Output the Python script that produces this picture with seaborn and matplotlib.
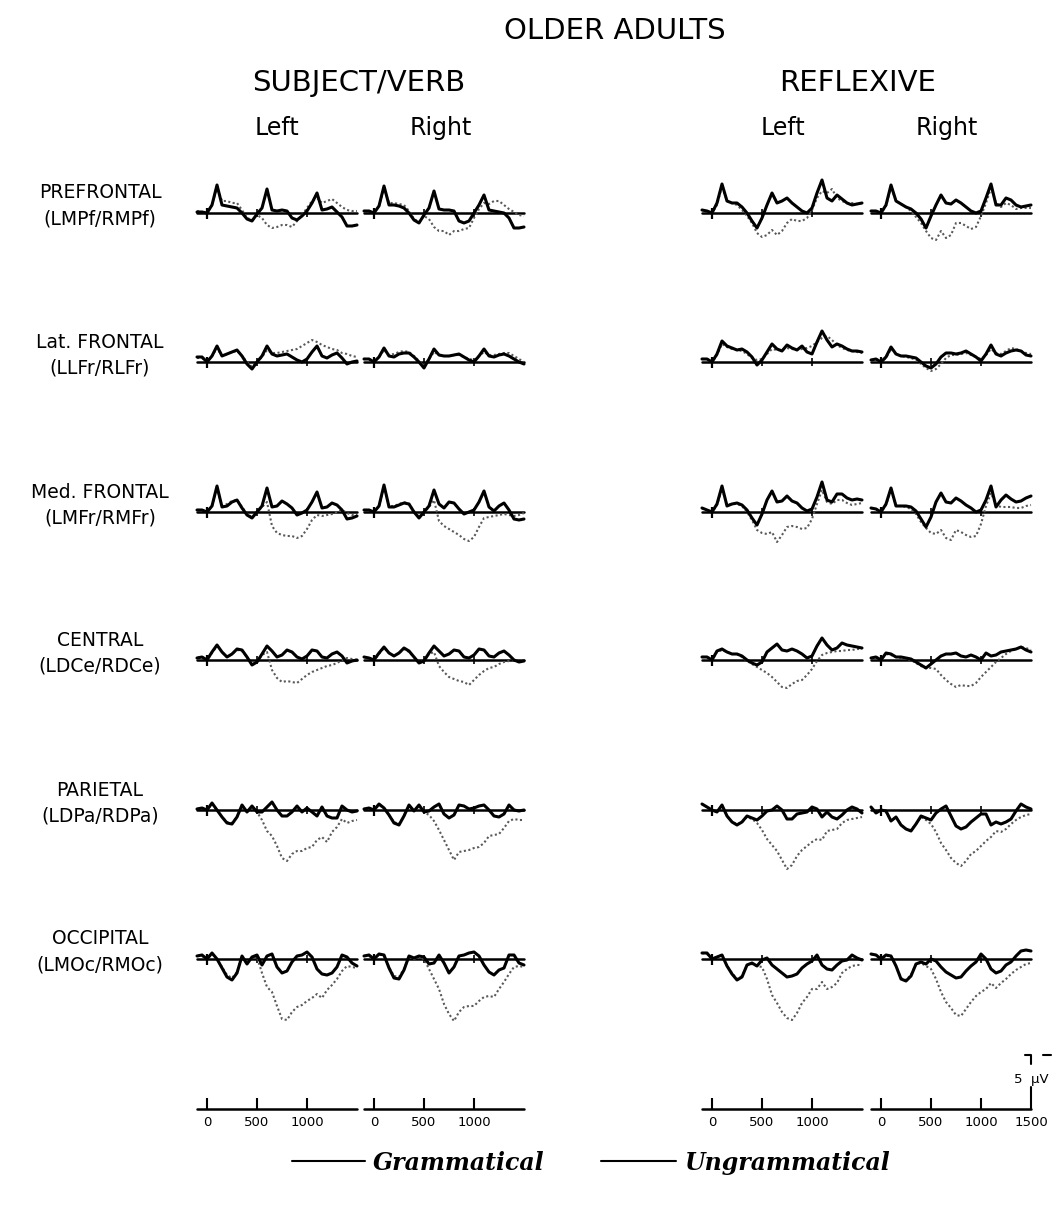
import matplotlib
matplotlib.use("Agg")
import matplotlib.pyplot as plt
from matplotlib.lines import Line2D
import pandas as pd
import seaborn as sns

# sample times (ms) and amplitudes (0.1 uV, drawn upward as plotted in the figure)
times = list(range(-100, 1501, 50))

# PREFRONTAL
pf_svl_g = [1, 1, 0, 8, 28, 8, 7, 6, 5, 0, -6, -8, -1, 5, 24, 3, 2, 3, 2, -5, -7, -3, 2, 10, 20, 3, 4, 6, 1, -4, -13, -13, -12]
pf_svl_u = [2, 1, 0, 8, 26, 12, 12, 10, 10, 3, -5, -7, -2, -5, -12, -15, -14, -12, -12, -14, -8, -2, 5, 12, 15, 10, 12, 14, 10, 6, 3, 2, 2]
pf_svr_g = [2, 2, 0, 7, 27, 8, 8, 7, 5, 0, -7, -10, -2, 5, 22, 4, 3, 3, 2, -8, -10, -8, 0, 8, 18, 3, 2, 1, 0, -5, -15, -15, -14]
pf_svr_u = [2, 2, 0, 7, 25, 10, 10, 9, 8, 2, -6, -9, -3, -6, -14, -18, -18, -22, -18, -18, -16, -15, -5, 4, 10, 9, 12, 12, 8, 4, 1, -2, -3]
pf_rfl_g = [3, 2, 0, 10, 29, 12, 10, 10, 6, 0, -8, -15, -5, 8, 20, 10, 12, 15, 10, 6, 2, 0, 5, 20, 33, 15, 12, 18, 14, 10, 8, 9, 10]
pf_rfl_u = [3, 2, 0, 8, 27, 12, 10, 8, 3, -3, -10, -20, -24, -22, -17, -22, -18, -10, -6, -8, -8, -5, 3, 15, 22, 20, 24, 15, 12, 10, 10, 9, 10]
pf_rfr_g = [2, 2, 0, 8, 28, 12, 9, 6, 4, 0, -6, -15, -3, 8, 18, 10, 9, 13, 10, 6, 2, 0, 2, 15, 29, 8, 8, 15, 13, 8, 6, 7, 8]
pf_rfr_u = [2, 2, 0, 7, 26, 12, 9, 6, 2, -4, -10, -18, -25, -27, -18, -25, -22, -10, -10, -13, -16, -14, -3, 10, 25, 10, 6, 10, 8, 4, 5, 5, 5]

# Lat. FRONTAL
lf_svl_g = [5, 5, 0, 6, 16, 6, 8, 10, 12, 6, -2, -7, 0, 6, 16, 8, 6, 7, 8, 5, 2, 0, 3, 10, 16, 6, 4, 7, 9, 4, -2, 0, 1]
lf_svl_u = [4, 4, 0, 6, 14, 6, 8, 10, 11, 6, 0, -5, 0, 5, 12, 9, 9, 10, 11, 12, 13, 16, 19, 22, 20, 17, 15, 13, 12, 9, 8, 6, 5]
lf_svr_g = [3, 3, 0, 5, 14, 6, 5, 8, 9, 9, 5, 0, -6, 3, 13, 7, 6, 6, 7, 8, 5, 2, 0, 6, 13, 6, 5, 7, 8, 6, 3, 0, -2]
lf_svr_u = [3, 3, 0, 5, 12, 7, 8, 10, 11, 10, 6, 1, -3, 3, 10, 7, 6, 6, 7, 7, 5, 3, 2, 6, 10, 7, 7, 8, 9, 9, 6, 3, 0]
lf_rfl_g = [3, 3, 0, 8, 21, 16, 14, 12, 13, 10, 5, -3, 2, 10, 18, 13, 11, 17, 14, 12, 16, 10, 8, 20, 31, 22, 15, 18, 16, 13, 11, 11, 10]
lf_rfl_u = [3, 3, 0, 7, 18, 15, 13, 12, 11, 8, 4, 2, 3, 8, 13, 12, 12, 14, 13, 12, 13, 14, 16, 20, 24, 26, 22, 17, 14, 12, 11, 10, 9]
lf_rfr_g = [2, 3, 0, 5, 15, 8, 6, 6, 5, 4, 0, -4, -6, -2, 5, 9, 9, 8, 9, 11, 8, 5, 1, 8, 17, 8, 6, 9, 11, 12, 11, 7, 6]
lf_rfr_u = [2, 2, 0, 4, 13, 8, 6, 5, 4, 2, -2, -6, -9, -7, -2, 4, 7, 7, 8, 9, 7, 5, 3, 7, 13, 9, 8, 11, 14, 13, 11, 9, 8]

# Med. FRONTAL
mf_svl_g = [2, 2, 0, 6, 26, 5, 6, 10, 12, 4, -3, -6, 0, 6, 24, 5, 6, 11, 8, 4, -3, -1, 2, 10, 20, 4, 5, 9, 7, 2, -7, -6, -4]
mf_svl_u = [2, 2, 0, 6, 24, 6, 8, 11, 12, 5, -2, -5, 0, 5, 10, -14, -21, -23, -24, -24, -26, -24, -17, -8, -3, -4, -3, -2, 0, 2, -1, -3, -3]
mf_svr_g = [2, 2, 0, 6, 27, 5, 5, 7, 9, 8, 0, -6, 0, 6, 22, 8, 4, 10, 9, 3, -2, 0, 2, 10, 21, 5, 1, 6, 9, 2, -7, -8, -7]
mf_svr_u = [2, 2, 0, 6, 25, 6, 6, 8, 10, 8, 1, -5, 0, 5, 12, -9, -14, -17, -20, -23, -27, -29, -25, -15, -6, -5, -4, -3, -2, -3, -4, -3, -1]
mf_rfl_g = [4, 2, 0, 8, 26, 6, 8, 9, 7, 2, -6, -13, -2, 12, 21, 10, 11, 16, 11, 9, 4, 1, 3, 15, 30, 12, 10, 18, 18, 14, 12, 13, 12]
mf_rfl_u = [4, 2, 0, 7, 23, 7, 8, 8, 6, 0, -8, -18, -21, -22, -20, -30, -23, -15, -14, -15, -17, -16, -7, 8, 22, 10, 8, 12, 12, 9, 7, 8, 9]
mf_rfr_g = [4, 3, 0, 8, 24, 6, 6, 6, 5, 1, -7, -15, -5, 10, 19, 10, 9, 14, 11, 7, 4, 0, 2, 12, 26, 5, 12, 17, 13, 10, 11, 14, 16]
mf_rfr_u = [4, 3, 0, 7, 22, 6, 6, 5, 3, -2, -10, -16, -21, -22, -18, -26, -28, -18, -20, -23, -25, -24, -12, 6, 19, 7, 5, 5, 5, 4, 4, 6, 7]

# CENTRAL
ce_svl_g = [2, 3, 0, 8, 15, 8, 3, 6, 11, 10, 3, -5, -2, 6, 14, 9, 3, 5, 10, 8, 3, 1, 4, 10, 9, 3, 2, 6, 8, 4, -3, -1, 0]
ce_svl_u = [2, 3, 0, 7, 14, 8, 3, 6, 10, 9, 3, -4, -2, 5, 8, -10, -18, -22, -21, -22, -23, -19, -15, -12, -10, -8, -6, -5, -3, 0, 2, 1, 0]
ce_svr_g = [3, 2, 0, 7, 13, 7, 4, 7, 12, 9, 3, -3, -1, 7, 14, 9, 4, 6, 10, 9, 3, 2, 5, 11, 10, 4, 3, 7, 9, 5, 0, -2, -1]
ce_svr_u = [3, 2, 0, 6, 12, 7, 4, 7, 11, 8, 3, -2, -1, 6, 8, -6, -12, -17, -19, -21, -22, -25, -20, -15, -11, -8, -7, -4, -2, -1, 0, -1, 0]
ce_rfl_g = [3, 3, 0, 9, 11, 8, 6, 6, 4, 0, -3, -5, -2, 8, 12, 16, 10, 9, 11, 9, 6, 2, 4, 14, 22, 15, 10, 12, 17, 15, 14, 13, 12]
ce_rfl_u = [3, 3, 0, 8, 10, 8, 6, 6, 3, -1, -4, -7, -10, -13, -17, -22, -27, -28, -24, -21, -20, -15, -9, -1, 5, 7, 8, 9, 9, 10, 10, 11, 11]
ce_rfr_g = [2, 3, 0, 7, 6, 3, 3, 2, 1, -2, -5, -8, -4, 0, 4, 6, 6, 7, 4, 3, 5, 3, 0, 7, 4, 5, 8, 9, 10, 11, 13, 10, 8]
ce_rfr_u = [2, 2, 0, 6, 5, 3, 2, 1, 0, -3, -6, -8, -8, -9, -15, -20, -24, -27, -25, -26, -26, -23, -17, -12, -7, -2, 2, 6, 9, 11, 13, 12, 10]

# PARIETAL
pa_svl_g = [1, 2, 0, 7, 0, -7, -13, -14, -7, 5, -2, 4, -2, -2, 3, 8, 0, -6, -6, -2, 4, -2, 2, -2, -6, 3, -6, -8, -8, 4, 0, -2, -1]
pa_svl_u = [1, 2, 0, 6, 0, -7, -12, -13, -7, 4, -2, 3, -2, -10, -21, -26, -36, -48, -51, -44, -41, -41, -38, -37, -30, -27, -32, -22, -17, -9, -13, -11, -10]
pa_svr_g = [1, 2, 0, 6, 2, -5, -13, -15, -6, 5, -1, 5, -2, -1, 3, 6, -4, -8, -5, 5, 4, 1, 2, 4, 5, 0, -6, -7, -4, 5, 0, -1, 0]
pa_svr_u = [1, 2, 0, 5, 2, -5, -12, -14, -6, 4, -1, 4, -2, -5, -11, -20, -30, -40, -50, -42, -41, -40, -38, -37, -33, -26, -25, -24, -18, -11, -9, -10, -10]
pa_rfl_g = [6, 3, 0, -2, 5, -6, -12, -15, -12, -6, -8, -10, -6, -1, 0, 4, 0, -9, -9, -4, -3, -2, 3, 1, -7, -2, -7, -9, -5, 0, 3, 1, -3]
pa_rfl_u = [6, 3, 0, -2, 4, -6, -12, -14, -12, -7, -9, -13, -20, -29, -35, -41, -50, -59, -55, -46, -40, -36, -32, -29, -30, -21, -20, -19, -13, -10, -9, -8, -7]
pa_rfr_g = [3, -3, 0, -1, -11, -7, -15, -19, -21, -14, -6, -8, -10, -3, 1, 4, -6, -16, -19, -17, -12, -8, -4, -4, -15, -12, -14, -12, -9, -1, 6, 3, 1]
pa_rfr_u = [3, -3, 0, -2, -11, -7, -15, -19, -20, -14, -7, -10, -14, -22, -33, -40, -48, -53, -56, -51, -44, -41, -36, -31, -27, -21, -22, -19, -14, -10, -7, -5, -4]

# OCCIPITAL
oc_svl_g = [3, 4, 0, 6, 0, -9, -18, -21, -14, 3, -5, 2, 4, -6, 3, 5, -8, -14, -12, -3, 3, 4, 7, 2, -10, -15, -16, -14, -8, 4, 2, -4, -7]
oc_svl_u = [3, 3, 0, 5, 0, -8, -16, -19, -13, 2, -5, 1, 2, -14, -28, -33, -47, -60, -61, -53, -48, -46, -42, -39, -35, -39, -31, -26, -20, -12, -7, -8, -9]
oc_svr_g = [3, 4, 0, 5, 4, -9, -19, -20, -11, 3, 1, 3, 2, -5, -4, 4, -4, -14, -8, 3, 4, 6, 7, 3, -6, -13, -16, -11, -9, 4, 4, -4, -6]
oc_svr_u = [3, 3, 0, 5, 3, -8, -17, -18, -10, 2, 0, 2, 0, -10, -20, -30, -45, -55, -62, -53, -48, -47, -47, -42, -38, -37, -38, -30, -23, -15, -8, -7, -8]
oc_rfl_g = [6, 6, 0, 2, 4, -7, -15, -21, -18, -6, -4, -7, -1, 1, -6, -10, -14, -18, -17, -15, -9, -5, -2, 4, -6, -10, -11, -6, -2, -1, 4, 1, -1]
oc_rfl_u = [6, 5, 0, 2, 4, -7, -14, -20, -17, -6, -5, -7, -8, -20, -36, -44, -53, -59, -61, -54, -44, -38, -30, -30, -23, -30, -28, -24, -14, -10, -7, -6, -6]
oc_rfr_g = [5, 4, 0, 4, 3, -7, -20, -22, -17, -5, -3, -5, 0, -2, -8, -13, -16, -19, -18, -12, -7, -3, 5, 0, -10, -14, -12, -6, -3, 3, 8, 9, 8]
oc_rfr_u = [5, 4, 0, 3, 3, -7, -19, -21, -16, -5, -4, -7, -10, -20, -33, -43, -49, -56, -57, -50, -43, -37, -33, -30, -24, -29, -24, -20, -15, -11, -8, -5, -4]

region_names = [("PREFRONTAL", "(LMPf/RMPf)"), ("Lat. FRONTAL", "(LLFr/RLFr)"),
                ("Med. FRONTAL", "(LMFr/RMFr)"), ("CENTRAL", "(LDCe/RDCe)"),
                ("PARIETAL", "(LDPa/RDPa)"), ("OCCIPITAL", "(LMOc/RMOc)")]
panels = ["svl", "svr", "rfl", "rfr"]
waves = [
    [(pf_svl_g, pf_svl_u), (pf_svr_g, pf_svr_u), (pf_rfl_g, pf_rfl_u), (pf_rfr_g, pf_rfr_u)],
    [(lf_svl_g, lf_svl_u), (lf_svr_g, lf_svr_u), (lf_rfl_g, lf_rfl_u), (lf_rfr_g, lf_rfr_u)],
    [(mf_svl_g, mf_svl_u), (mf_svr_g, mf_svr_u), (mf_rfl_g, mf_rfl_u), (mf_rfr_g, mf_rfr_u)],
    [(ce_svl_g, ce_svl_u), (ce_svr_g, ce_svr_u), (ce_rfl_g, ce_rfl_u), (ce_rfr_g, ce_rfr_u)],
    [(pa_svl_g, pa_svl_u), (pa_svr_g, pa_svr_u), (pa_rfl_g, pa_rfl_u), (pa_rfr_g, pa_rfr_u)],
    [(oc_svl_g, oc_svl_u), (oc_svr_g, oc_svr_u), (oc_rfl_g, oc_rfl_u), (oc_rfr_g, oc_rfr_u)],
]

# layout in pixels
W, H = 1053, 1205
panel_x0 = [197, 364, 702, 871]
row_base = [213, 362, 512, 660, 810, 959]
axis_base = 1109


def fx(x):
    return x / W


def fy(y):
    return 1 - y / H


def panel_axes(fig, x0, base):
    ax = fig.add_axes([fx(x0), fy(base + 75), 160 / W, 120 / H])
    ax.set_xlim(-100, 1500)
    ax.set_ylim(-75, 45)
    ax.axis("off")
    return ax


sns.set_theme(style="white")
plt.rcParams["font.family"] = ["DejaVu Sans"]
plt.rcParams["text.color"] = "black"
fig = plt.figure(figsize=(W / 100, H / 100), dpi=100)

for r, (name, code) in enumerate(region_names):
    for c, key in enumerate(panels):
        g, u = waves[r][c]
        df = pd.DataFrame({"time": times, "gram": g, "ungram": u})
        ax = panel_axes(fig, panel_x0[c], row_base[r])
        ax.plot([-100, 1500], [0, 0], color="black", lw=1.8, clip_on=False)
        ax.vlines([0], -6, 5, color="black", lw=1.6, clip_on=False)
        ax.vlines([500, 1000], -4, 4, color="black", lw=1.2, clip_on=False)
        sns.lineplot(data=df, x="time", y="ungram", ax=ax, color="0.35", lw=1.5,
                     linestyle=(0, (1, 1.2)), estimator=None, legend=False, clip_on=False)
        sns.lineplot(data=df, x="time", y="gram", ax=ax, color="black", lw=2.2,
                     estimator=None, legend=False, clip_on=False)
        ax.axis("off")
    fig.text(fx(100), fy(row_base[r] - 20), name, ha="center", va="center", fontsize=13.5)
    fig.text(fx(100), fy(row_base[r] + 6), code, ha="center", va="center", fontsize=13.5)

# time axes
for c in range(4):
    ax = panel_axes(fig, panel_x0[c], axis_base)
    ax.plot([-100, 1500], [0, 0], color="black", lw=1.8, clip_on=False)
    ticks = [0, 500, 1000]
    ax.vlines(ticks, 0, 11, color="black", lw=1.5, clip_on=False)
    labels = ticks + ([1500] if c == 3 else [])
    for t in labels:
        ax.text(t, -7, str(t), ha="center", va="top", fontsize=9.5)
    if c == 3:
        # 5 uV calibration bar
        ax.plot([1500, 1500], [0, 22], color="black", lw=1.5, clip_on=False)
        ax.plot([1440, 1500, 1500], [54, 54, 45], color="black", lw=1.5, clip_on=False)
        ax.plot([1620, 1700], [54, 54], color="black", lw=1.5, clip_on=False)
        ax.text(1500, 29, "5  \u00b5V", ha="center", va="center", fontsize=9.5)

# headings
fig.text(fx(615), fy(31), "OLDER ADULTS", ha="center", va="center", fontsize=21)
fig.text(fx(359), fy(83), "SUBJECT/VERB", ha="center", va="center", fontsize=21)
fig.text(fx(858), fy(83), "REFLEXIVE", ha="center", va="center", fontsize=21)
for x, s in [(277, "Left"), (441, "Right"), (783, "Left"), (947, "Right")]:
    fig.text(fx(x), fy(128), s, ha="center", va="center", fontsize=17)

# legend
leg_y = 1163
for x0, x1, tx, s in [(292, 365, 373, "Grammatical"), (601, 676, 684, "Ungrammatical")]:
    fig.add_artist(Line2D([fx(x0), fx(x1)], [fy(leg_y - 2), fy(leg_y - 2)], color="black", lw=1.5))
    fig.text(fx(tx), fy(leg_y), s, ha="left", va="center", fontsize=17,
             family="DejaVu Serif", fontweight="bold", fontstyle="italic")

fig.savefig("out.png", dpi=100, facecolor="white")
